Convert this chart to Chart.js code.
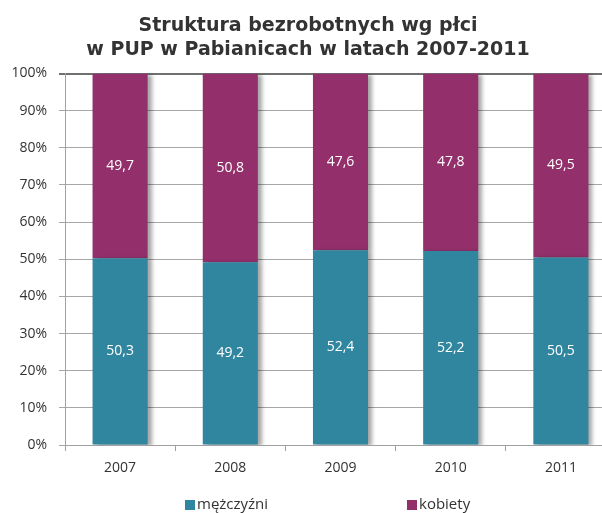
<!DOCTYPE html>
<html>
<head>
<meta charset="utf-8">
<script src="https://cdn.jsdelivr.net/npm/chart.js@4/dist/chart.umd.min.js"></script>
<style>
  html, body { margin: 0; padding: 0; background: #fff; overflow: hidden; }
  #wrap { width: 616px; height: 513px; position: relative; }
</style>
</head>
<body>
<div id="wrap"><canvas id="chart"></canvas></div>
<script>
'use strict';

const YEARS   = ['2007', '2008', '2009', '2010', '2011'];
const MEN     = [50.3, 49.2, 52.4, 52.2, 50.5];
const WOMEN   = [49.7, 50.8, 47.6, 47.8, 49.5];
const TITLE   = ['Struktura bezrobotnych wg płci', 'w PUP w Pabianicach w latach 2007-2011'];

const TEAL   = '#31869f';
const PLUM   = '#93306b';
const TXT    = '#333333';
const FONT   = '"Open Sans", "Noto Sans", sans-serif';

// legend item left edges (box x) and vertical centre
const LEGEND_X = [185, 407];
const LEGEND_Y = 505;

// soft shadow to the right of each bar
const barShadow = {
    id: 'barShadow',
    beforeDatasetsDraw(chart) {
        const ctx = chart.ctx;
        ctx.save();
        ctx.shadowColor   = 'rgba(0,0,0,0.35)';
        ctx.shadowBlur    = 4;
        ctx.shadowOffsetX = 4;
        ctx.shadowOffsetY = 1;
    },
    afterDatasetsDraw(chart) {
        chart.ctx.restore();
    }
};

// white value labels in the middle of each segment
const valueLabels = {
    id: 'valueLabels',
    afterDatasetsDraw(chart) {
        const ctx = chart.ctx;
        ctx.save();
        ctx.fillStyle    = '#ffffff';
        ctx.font         = `14px ${FONT}`;
        ctx.textAlign    = 'center';
        ctx.textBaseline = 'middle';
        chart.data.datasets.forEach((ds, di) => {
            chart.getDatasetMeta(di).data.forEach((bar, i) => {
                const { x, y, base } = bar.getProps(['x', 'y', 'base'], true);
                ctx.fillText(ds.data[i].toFixed(1).replace('.', ','), x, (y + base) / 2);
            });
        });
        ctx.restore();
    }
};

// widely spaced legend along the bottom
const wideLegend = {
    id: 'wideLegend',
    afterDraw(chart) {
        const ctx = chart.ctx;
        ctx.save();
        ctx.font         = `15px ${FONT}`;
        ctx.textBaseline = 'middle';
        ctx.textAlign    = 'left';
        chart.data.datasets.forEach((ds, i) => {
            const x = LEGEND_X[i];
            ctx.fillStyle = ds.backgroundColor;
            ctx.fillRect(x, LEGEND_Y - 5, 10, 10);
            ctx.fillStyle = TXT;
            ctx.fillText(ds.label, x + 12, LEGEND_Y);
        });
        ctx.restore();
    }
};

new Chart(document.getElementById('chart'), {
    type: 'bar',
    data: {
        labels: YEARS,
        datasets: [
            { label: 'mężczyźni', data: MEN,   backgroundColor: TEAL },
            { label: 'kobiety',   data: WOMEN, backgroundColor: PLUM },
        ]
    },
    plugins: [barShadow, valueLabels, wideLegend],
    options: {
        responsive: true,
        maintainAspectRatio: false,
        animation: false,
        datasets: { bar: { barPercentage: 1, categoryPercentage: 0.5 } },
        layout: { padding: { left: 0, right: 0, top: 14, bottom: 35 } },
        plugins: {
            title: {
                display: true,
                text: TITLE,
                color: '#333333',
                font: { family: '"DejaVu Sans", sans-serif', size: 19, weight: 'bold', lineHeight: 1.25 },
                padding: { top: 0, bottom: 12 }
            },
            legend: { display: false },
            tooltip: { enabled: false }
        },
        scales: {
            x: {
                stacked: true,
                afterFit: s => { s.height = 33; },
                grid: { offset: true, drawOnChartArea: false, color: '#a0a0a0', tickLength: 6 },
                border: { color: '#a0a0a0' },
                ticks: { color: TXT, font: { family: FONT, size: 14 }, padding: 9 }
            },
            y: {
                stacked: true,
                min: 0,
                max: 100,
                afterFit: s => { s.width = 65; },
                grid: {
                    color: c => c.tick && c.tick.value === 100 ? '#707070' : '#a6a6a6',
                    lineWidth: c => c.tick && c.tick.value === 100 ? 2 : 1,
                    tickLength: 6
                },
                border: { color: '#a0a0a0' },
                ticks: {
                    stepSize: 10,
                    color: TXT,
                    font: { family: FONT, size: 14 },
                    padding: 12,
                    callback: v => v + '%'
                }
            }
        }
    }
});
</script>
</body>
</html>
